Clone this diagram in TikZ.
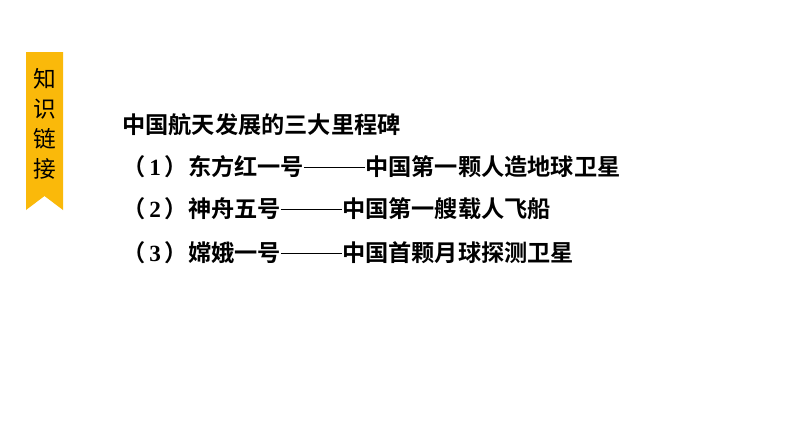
\documentclass[tikz,border=0pt]{standalone}
\usepackage{fontspec}
\newfontfamily\cjk{Noto Sans CJK SC}
\newfontfamily\cjkb{Noto Sans CJK SC Bold}
\newfontfamily\numf{Liberation Serif}
\definecolor{gold}{RGB}{250,185,10}
\newcommand{\dashrule}{\rule[0.33em]{46pt}{0.9pt}}
\newcommand{\paren}[1]{（{\numf\bfseries\,#1\,}）}
\begin{document}
\begin{tikzpicture}[x=0.75pt,y=-0.75pt,
  line/.style={anchor=west,inner sep=0pt,font=\cjkb\fontsize{17.4}{19}\selectfont}]
\useasboundingbox[fill=white] (0,0) rectangle (794,447);
\fill[gold] (26,52) -- (63,52) -- (63,210) -- (44.5,196) -- (26,210) -- cycle;
\node[font=\cjk\fontsize{17}{22.5}\selectfont,align=center,inner sep=0pt] (banner) at (44.5,124) {知\\识\\链\\接};
\node[line] (t0) at (122,125) {中国航天发展的三大里程碑};
\node[line] (t1) at (122,167) {\paren{1}东方红一号\dashrule 中国第一颗人造地球卫星};
\node[line] (t2) at (122,209) {\paren{2}神舟五号\dashrule 中国第一艘载人飞船};
\node[line] (t3) at (122,253) {\paren{3}嫦娥一号\dashrule 中国首颗月球探测卫星};
\end{tikzpicture}
\end{document}
